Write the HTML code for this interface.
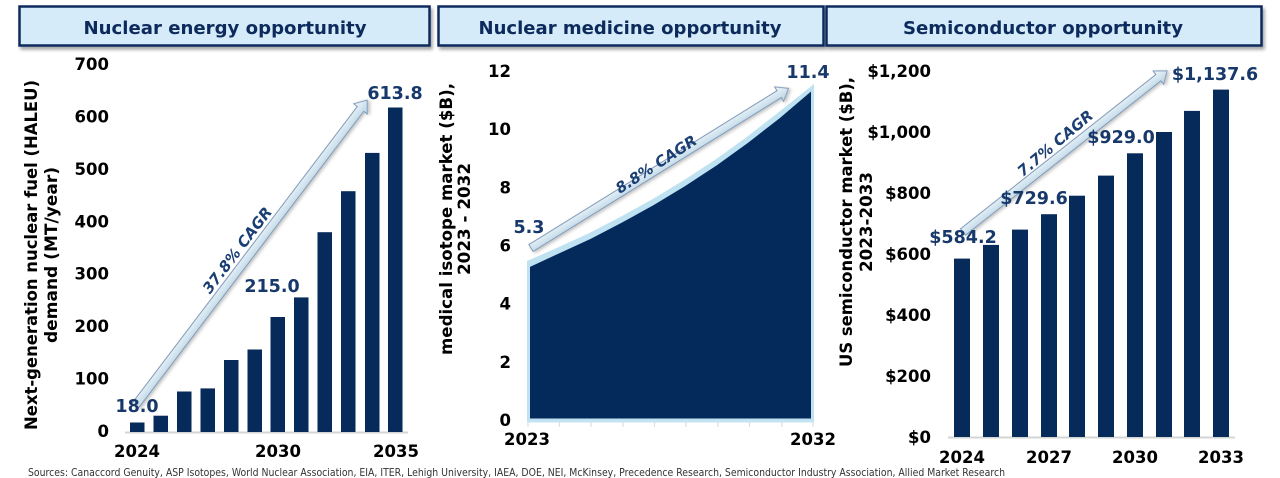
<!DOCTYPE html>
<html><head><meta charset="utf-8"><style>
html,body{margin:0;padding:0;background:#fff;}
svg{display:block;}
text{font-family:"DejaVu Sans","Liberation Sans",sans-serif;}
</style></head><body>
<svg width="1280" height="478" viewBox="0 0 1280 478" xmlns="http://www.w3.org/2000/svg">
<defs>
<filter id="sh" x="-5%" y="-20%" width="110%" height="160%"><feDropShadow dx="2" dy="3" stdDeviation="1.6" flood-color="#000" flood-opacity="0.35"/></filter>
<filter id="ash" x="-10%" y="-50%" width="120%" height="200%"><feDropShadow dx="1" dy="2" stdDeviation="1.5" flood-color="#000" flood-opacity="0.25"/></filter>
<linearGradient id="ag" x1="0" y1="0" x2="0" y2="1"><stop offset="0" stop-color="#f4f9fc"/><stop offset="1" stop-color="#b4d1e3"/></linearGradient>
</defs>

<!-- headers -->
<g filter="url(#sh)">
<rect x="19.5" y="6.5" width="410" height="39" fill="#d5ebf9" stroke="#0e2c5d" stroke-width="2.5"/>
<rect x="438.5" y="6.5" width="385" height="39" fill="#d5ebf9" stroke="#0e2c5d" stroke-width="2.5"/>
<rect x="826.5" y="6.5" width="435" height="39" fill="#d5ebf9" stroke="#0e2c5d" stroke-width="2.5"/>
</g>
<g font-weight="bold" font-size="17.5" fill="#0c2a5b" text-anchor="middle">
<text x="225" y="34" textLength="283" lengthAdjust="spacingAndGlyphs">Nuclear energy opportunity</text>
<text x="630" y="34" textLength="303" lengthAdjust="spacingAndGlyphs">Nuclear medicine opportunity</text>
<text x="1043" y="34" textLength="280" lengthAdjust="spacingAndGlyphs">Semiconductor opportunity</text>
</g>

<!-- ============ Panel 1 ============ -->
<g font-weight="bold" font-size="16.5" fill="#000" text-anchor="end">
<text x="109" y="70">700</text>
<text x="109" y="122.4">600</text>
<text x="109" y="174.8">500</text>
<text x="109" y="227.3">400</text>
<text x="109" y="279.7">300</text>
<text x="109" y="332.1">200</text>
<text x="109" y="384.6">100</text>
<text x="109" y="437">0</text>
</g>
<g font-weight="bold" font-size="16.5" fill="#000" text-anchor="middle">
<text x="137" y="457">2024</text>
<text x="278" y="457">2030</text>
<text x="396" y="457">2035</text>
</g>
<g font-weight="bold" font-size="16.5" fill="#000" text-anchor="middle">
<text transform="translate(37,255) rotate(-90)" textLength="350" lengthAdjust="spacingAndGlyphs">Next-generation nuclear fuel (HALEU)</text>
<text transform="translate(57,255) rotate(-90)" textLength="176" lengthAdjust="spacingAndGlyphs">demand (MT/year)</text>
</g>
<line x1="125" y1="432.5" x2="408" y2="432.5" stroke="#d4d4d4" stroke-width="2"/>
<g fill="#062a5a">
<rect x="130" y="422.5" width="14.5" height="9.5"/>
<rect x="153.5" y="415.7" width="14.5" height="16.3"/>
<rect x="177" y="391.5" width="14.5" height="40.5"/>
<rect x="200.5" y="388.4" width="14.5" height="43.6"/>
<rect x="224" y="360" width="14.5" height="72"/>
<rect x="247.5" y="349.5" width="14.5" height="82.5"/>
<rect x="270.5" y="317" width="14.5" height="115"/>
<rect x="294" y="297.4" width="14.5" height="134.6"/>
<rect x="317.5" y="232.2" width="14.5" height="199.8"/>
<rect x="341" y="191.2" width="14.5" height="240.8"/>
<rect x="365" y="152.9" width="14.5" height="279.1"/>
<rect x="388" y="107.5" width="14.5" height="324.5"/>
</g>
<g transform="translate(135,406) rotate(-52.8)" filter="url(#ash)">
<polygon points="0,-4 373,-4 373,-8.5 384,0 373,8.5 373,4 0,4" fill="url(#ag)" stroke="#7f9ab8" stroke-width="1"/>
</g>
<g font-weight="bold" font-size="17.5" fill="#17386b" text-anchor="middle">
<text x="395" y="99">613.8</text>
<text x="272" y="292">215.0</text>
<text x="137" y="412">18.0</text>
</g>
<text transform="translate(237,250) rotate(-52.8)" y="5.5" font-weight="bold" font-style="italic" font-size="15" fill="#1b3f73" text-anchor="middle">37.8% CAGR</text>

<!-- ============ Panel 2 ============ -->
<g font-weight="bold" font-size="16.5" fill="#000" text-anchor="end">
<text x="511" y="77">12</text>
<text x="511" y="135.2">10</text>
<text x="511" y="193.3">8</text>
<text x="511" y="251.5">6</text>
<text x="511" y="309.7">4</text>
<text x="511" y="367.8">2</text>
<text x="511" y="426">0</text>
</g>
<g font-weight="bold" font-size="16.5" fill="#000" text-anchor="middle">
<text x="527" y="445">2023</text>
<text x="813" y="445">2032</text>
</g>
<g font-weight="bold" font-size="16.5" fill="#000" text-anchor="middle">
<text transform="translate(452,219) rotate(-90)" textLength="272" lengthAdjust="spacingAndGlyphs">medical isotope market ($B),</text>
<text transform="translate(470,219) rotate(-90)" textLength="112" lengthAdjust="spacingAndGlyphs">2023 - 2032</text>
</g>
<!-- area -->
<polygon points="527,421.5 527,261 558.4,247.3 589.9,232.7 621.3,216.4 652.8,199 684.2,180 715.7,159.4 747.1,136.7 778.6,112.2 814,84 814,421.5" fill="#bfe2f2"/>
<polygon points="530,418.5 530,266.9 559.4,253.2 590.9,238.7 622.3,222.4 653.8,205 685.2,186 716.7,165.4 748.1,142.7 779.6,118.2 811,91.5 811,418.5" fill="#032a5b"/>
<line x1="527" y1="421.5" x2="814" y2="421.5" stroke="#c7e4f2" stroke-width="2"/>
<g stroke="#cfe3ee" stroke-width="1.2">
<line x1="528" y1="421" x2="528" y2="427"/><line x1="559.5" y1="421" x2="559.5" y2="427"/>
<line x1="591" y1="421" x2="591" y2="427"/><line x1="623" y1="421" x2="623" y2="427"/>
<line x1="654.5" y1="421" x2="654.5" y2="427"/><line x1="686" y1="421" x2="686" y2="427"/>
<line x1="718" y1="421" x2="718" y2="427"/><line x1="749.5" y1="421" x2="749.5" y2="427"/>
<line x1="782" y1="421" x2="782" y2="427"/><line x1="813" y1="421" x2="813" y2="427"/>
</g>
<g transform="translate(531,248) rotate(-31.8)" filter="url(#ash)">
<polygon points="0,-4 292,-4 292,-8.5 303,0 292,8.5 292,4 0,4" fill="url(#ag)" stroke="#7f9ab8" stroke-width="1"/>
</g>
<g font-weight="bold" font-size="17.5" fill="#17386b" text-anchor="middle">
<text x="529" y="233">5.3</text>
<text x="808" y="78">11.4</text>
</g>
<text transform="translate(656,164) rotate(-33)" y="5.5" font-weight="bold" font-style="italic" font-size="15" fill="#1b3f73" text-anchor="middle">8.8% CAGR</text>

<!-- ============ Panel 3 ============ -->
<g font-weight="bold" font-size="16.5" fill="#000" text-anchor="end">
<text x="931" y="77">$1,200</text>
<text x="931" y="138">$1,000</text>
<text x="931" y="199">$800</text>
<text x="931" y="260">$600</text>
<text x="931" y="321">$400</text>
<text x="931" y="382">$200</text>
<text x="931" y="443">$0</text>
</g>
<g font-weight="bold" font-size="16.5" fill="#000" text-anchor="middle">
<text x="962" y="463">2024</text>
<text x="1049" y="463">2027</text>
<text x="1135" y="463">2030</text>
<text x="1221" y="463">2033</text>
</g>
<g font-weight="bold" font-size="16.5" fill="#000" text-anchor="middle">
<text transform="translate(852,222) rotate(-90)" textLength="290" lengthAdjust="spacingAndGlyphs">US semiconductor market ($B),</text>
<text transform="translate(872,222) rotate(-90)" textLength="100" lengthAdjust="spacingAndGlyphs">2023-2033</text>
</g>
<line x1="948" y1="437.5" x2="1235" y2="437.5" stroke="#d4d4d4" stroke-width="2"/>
<g fill="#062a5a">
<rect x="954" y="258.6" width="16" height="178.4"/>
<rect x="983" y="244.9" width="16" height="192.1"/>
<rect x="1012" y="229.6" width="16" height="207.4"/>
<rect x="1041" y="214.2" width="16" height="222.8"/>
<rect x="1069" y="195.7" width="16" height="241.3"/>
<rect x="1098" y="175.6" width="16" height="261.4"/>
<rect x="1127" y="153.3" width="16" height="283.7"/>
<rect x="1156" y="132" width="16" height="305"/>
<rect x="1184" y="110.9" width="16" height="326.1"/>
<rect x="1213" y="89.6" width="16" height="347.4"/>
</g>
<g transform="translate(963,232) rotate(-38.3)" filter="url(#ash)">
<polygon points="0,-4 249,-4 249,-8.5 260,0 249,8.5 249,4 0,4" fill="url(#ag)" stroke="#7f9ab8" stroke-width="1"/>
</g>
<g font-weight="bold" font-size="17.5" fill="#17386b" text-anchor="middle">
<text x="963" y="243">$584.2</text>
<text x="1034" y="204">$729.6</text>
<text x="1121" y="143">$929.0</text>
<text x="1215" y="80">$1,137.6</text>
</g>
<text transform="translate(1055,143) rotate(-40)" y="5.5" font-weight="bold" font-style="italic" font-size="15" fill="#1b3f73" text-anchor="middle">7.7% CAGR</text>

<!-- sources -->
<text x="28" y="476" font-size="10.8" fill="#333" textLength="977" lengthAdjust="spacingAndGlyphs">Sources: Canaccord Genuity, ASP Isotopes, World Nuclear Association, EIA, ITER, Lehigh University, IAEA, DOE, NEI, McKinsey, Precedence Research, Semiconductor Industry Association, Allied Market Research</text>
</svg>
</body></html>
